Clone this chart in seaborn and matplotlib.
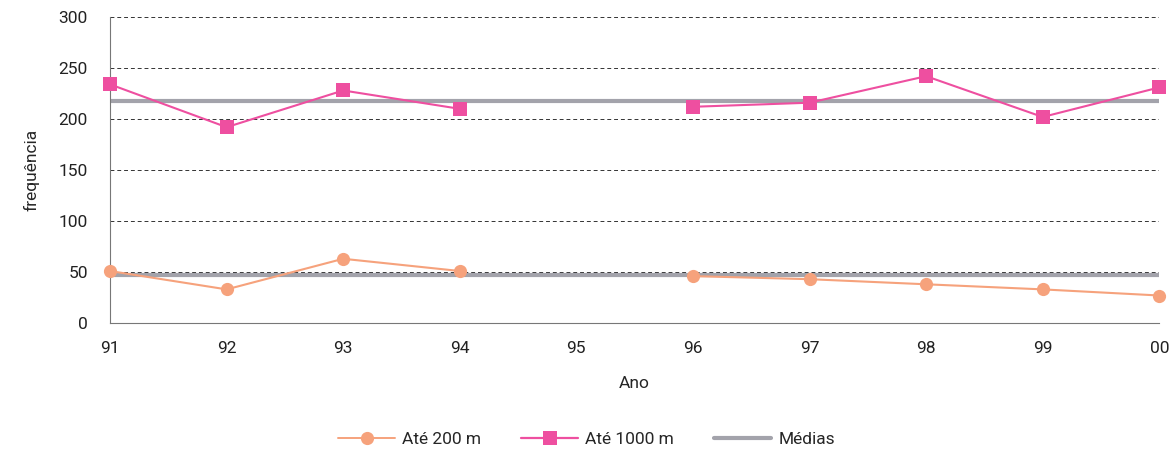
import numpy as np
import pandas as pd
import seaborn as sns
import matplotlib.pyplot as plt
from matplotlib.lines import Line2D

# dados (95 sem dados)
anos = ["91", "92", "93", "94", "95", "96", "97", "98", "99", "00"]
ate_200 = [51, 33, 63, 51, np.nan, 46, 43, 38, 33, 27]
ate_1000 = [234, 192, 228, 210, np.nan, 212, 216, 242, 202, 231]
medias = [47, 218]

cor_200 = "#F6A27C"
cor_1000 = "#EE4FA0"
cor_media = "#A3A3AB"

# tabela longa; "seg" separa os troços antes e depois da falha de 95
linhas = []
for serie, vals in [("Até 200 m", ate_200), ("Até 1000 m", ate_1000)]:
    for i, v in enumerate(vals):
        if not np.isnan(v):
            linhas.append({"pos": i, "val": v, "serie": serie, "seg": int(i > 4)})
df = pd.DataFrame(linhas)

sns.set_style("white")
plt.rcParams["font.family"] = ["Roboto", "DejaVu Sans"]

fig = plt.figure(figsize=(11.73, 4.55), dpi=100)
ax = fig.add_axes([0.0938, 0.29, 0.8945, 0.6726])

for y in [50, 100, 150, 200, 250, 300]:
    ax.axhline(y, color="#333333", lw=0.7, ls=(0, (4, 3)), zorder=1)

for m in medias:
    ax.axhline(m, color=cor_media, lw=3, zorder=2)

sns.lineplot(data=df, x="pos", y="val", hue="serie", style="serie", units="seg",
             estimator=None, palette={"Até 200 m": cor_200, "Até 1000 m": cor_1000},
             markers={"Até 200 m": "o", "Até 1000 m": "s"}, dashes=False,
             markersize=9.5, markeredgewidth=0, linewidth=1.5, legend=False,
             ax=ax, zorder=3, clip_on=False)

ax.set_xlim(0, 9)
ax.set_ylim(0, 300)
ax.set_xticks(range(len(anos)))
ax.set_xticklabels(anos)
ax.set_yticks(range(0, 301, 50))
ax.tick_params(axis="both", labelsize=12.5, colors="#222222")
ax.tick_params(axis="x", length=5, color="#777777", pad=8)
ax.tick_params(axis="y", length=0, pad=16)
ax.set_xlabel("Ano", fontsize=12.5, labelpad=14)
ax.set_ylabel("frequência", fontsize=12.5, labelpad=14)

for s in ["top", "right"]:
    ax.spines[s].set_visible(False)
ax.spines["left"].set_color("#777777")
ax.spines["bottom"].set_color("#777777")

handles = [
    Line2D([], [], color=cor_200, marker="o", markersize=9.5, lw=1.4, markeredgewidth=0),
    Line2D([], [], color=cor_1000, marker="s", markersize=9.5, lw=1.6, markeredgewidth=0),
    Line2D([], [], color=cor_media, lw=3),
]
fig.legend(handles, ["Até 200 m", "Até 1000 m", "Médias"], loc="center",
           bbox_to_anchor=(0.5, 0.035), ncol=3, frameon=False, fontsize=12.5,
           handlelength=3.3, handletextpad=0.4, columnspacing=2.3)

fig.savefig("out.png", dpi=100)
